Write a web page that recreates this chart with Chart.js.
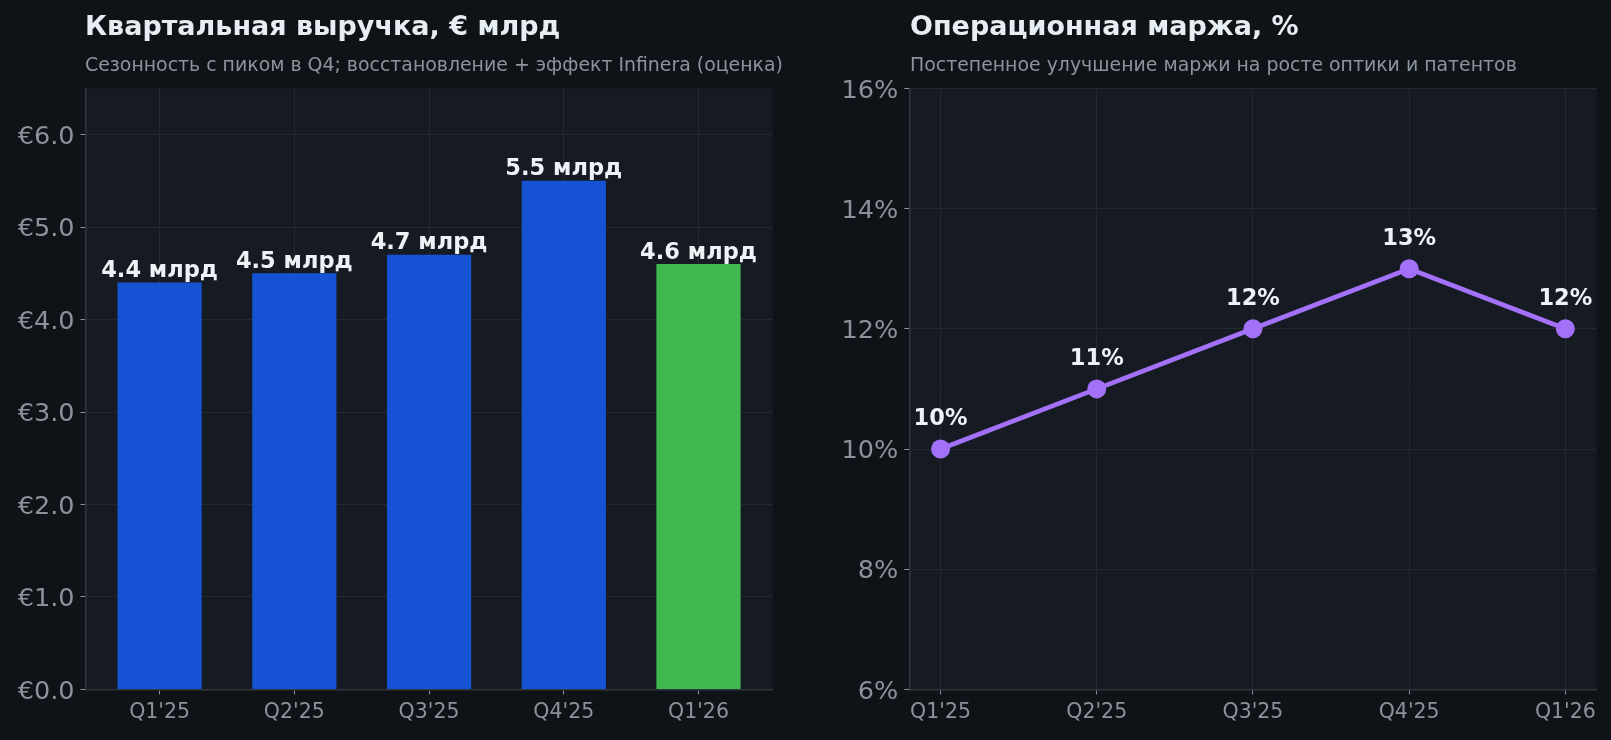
<!DOCTYPE html>
<html>
<head>
<meta charset="utf-8">
<script src="https://cdn.jsdelivr.net/npm/chart.js@4.4.1/dist/chart.umd.min.js"></script>
<style>
  html, body { margin:0; padding:0; background:#0f1317; width:1611px; height:740px; overflow:hidden; font-family:"DejaVu Sans", sans-serif; }
  .box { position:absolute; top:0; height:740px; }
  .title { position:absolute; color:#e6edf3; font-weight:bold; font-size:27px; line-height:27px; white-space:nowrap; }
  .sub { position:absolute; color:#8b949e; font-size:18.9px; line-height:19px; white-space:nowrap; }
</style>
</head>
<body>
<div class="box" style="left:0;width:820px;"><canvas id="c1" width="820" height="740"></canvas></div>
<div class="box" style="left:820px;width:791px;"><canvas id="c2" width="791" height="740"></canvas></div>
<div class="title" style="left:85px;top:12px;">Квартальная выручка, € млрд</div>
<div class="sub" style="left:85px;top:55px;">Сезонность с пиком в Q4; восстановление + эффект Infinera (оценка)</div>
<div class="title" style="left:910px;top:12px;">Операционная маржа, %</div>
<div class="sub" style="left:910px;top:55px;">Постепенное улучшение маржи на росте оптики и патентов</div>
<script>
const categories = ["Q1'25", "Q2'25", "Q3'25", "Q4'25", "Q1'26"];
const revenue = [4.4, 4.5, 4.7, 5.5, 4.6];
const revenueLabels = ["4.4 млрд", "4.5 млрд", "4.7 млрд", "5.5 млрд", "4.6 млрд"];
const margin = [10, 11, 12, 13, 12];
const marginLabels = ["10%", "11%", "12%", "13%", "12%"];
const revenueTicks = [0, 1, 2, 3, 4, 5, 6];
const marginTicks = [6, 8, 10, 12, 14, 16];

const BG_PLOT = '#161a22';
const GRID = '#242931';
const SPINE = '#30363d';
const TICKTXT = '#8b929b';
const FONT = '"DejaVu Sans", sans-serif';

const plotBg = {
  id: 'plotBg',
  beforeDraw(chart) {
    const {ctx, chartArea:a} = chart;
    ctx.save(); ctx.fillStyle = BG_PLOT;
    ctx.fillRect(a.left, a.top, a.right - a.left, a.bottom - a.top);
    ctx.restore();
  }
};

function valueLabels(texts, offset) {
  return {
    id: 'valueLabels',
    afterDatasetsDraw(chart) {
      const ctx = chart.ctx;
      const meta = chart.getDatasetMeta(0);
      ctx.save();
      ctx.font = 'bold 22.5px ' + FONT;
      ctx.fillStyle = '#eef1f5';
      ctx.textAlign = 'center';
      ctx.textBaseline = 'alphabetic';
      meta.data.forEach((el, i) => {
        ctx.fillText(texts[i], el.x, el.y - offset);
      });
      ctx.restore();
    }
  };
}

function xAxis(min, max) {
  return {
    type: 'linear', min, max, offset: false,
    afterBuildTicks(ax) { ax.ticks = categories.map((_, i) => ({value: i})); },
    afterFit(ax) { ax.height = 50.6; },
    ticks: { callback: v => categories[v], color: TICKTXT, font: {family: FONT, size: 20.5}, padding: 6, maxRotation: 0, autoSkip: false },
    grid: { color: GRID, lineWidth: 1, drawTicks: true, tickLength: 5, tickColor: TICKTXT, offset: false },
    border: { display: true, color: SPINE, width: 1.5 }
  };
}

function yAxis(min, max, tickVals, fmt, w) {
  return {
    type: 'linear', min, max,
    afterBuildTicks(ax) { ax.ticks = tickVals.map(v => ({value: v})); },
    afterFit(ax) { ax.width = w; },
    ticks: { callback: fmt, color: TICKTXT, font: {family: FONT, size: 25.5}, padding: 6, labelOffset: 2.5 },
    grid: { color: GRID, lineWidth: 1, drawTicks: true, tickLength: 5, tickColor: TICKTXT },
    border: { display: true, color: SPINE, width: 1.5 }
  };
}

new Chart(document.getElementById('c1'), {
  type: 'bar',
  data: {
    datasets: [{
      data: revenue.map((v, i) => ({x: i, y: v})),
      backgroundColor: revenue.map((v, i) => i === revenue.length - 1 ? '#3fb950' : '#1553d4'),
      borderWidth: 0,
      barPercentage: 0.625,
      categoryPercentage: 1
    }]
  },
  options: {
    responsive: false, animation: false,
    layout: { padding: { left: 0, top: 88.4, right: 47.4, bottom: 0 } },
    plugins: { legend: {display: false}, tooltip: {enabled: false} },
    scales: {
      x: xAxis(-0.55, 4.55),
      y: yAxis(0, 6.5, revenueTicks, v => '€' + v.toFixed(1), 85.5)
    }
  },
  plugins: [plotBg, valueLabels(revenueLabels, 5.5)]
});

new Chart(document.getElementById('c2'), {
  type: 'line',
  data: {
    datasets: [{
      data: margin.map((v, i) => ({x: i, y: v})),
      borderColor: '#a371f7',
      backgroundColor: '#a371f7',
      borderWidth: 4.7,
      pointRadius: 9.5,
      pointBackgroundColor: '#a371f7',
      pointBorderWidth: 0,
      tension: 0,
      clip: false
    }]
  },
  options: {
    responsive: false, animation: false,
    layout: { padding: { left: 0, top: 88.4, right: 14.4, bottom: 0 } },
    plugins: { legend: {display: false}, tooltip: {enabled: false} },
    scales: {
      x: xAxis(-0.2, 4.2),
      y: yAxis(6, 16, marginTicks, v => v + '%', 89.3)
    }
  },
  plugins: [plotBg, valueLabels(marginLabels, 24)]
});
</script>
</body>
</html>
